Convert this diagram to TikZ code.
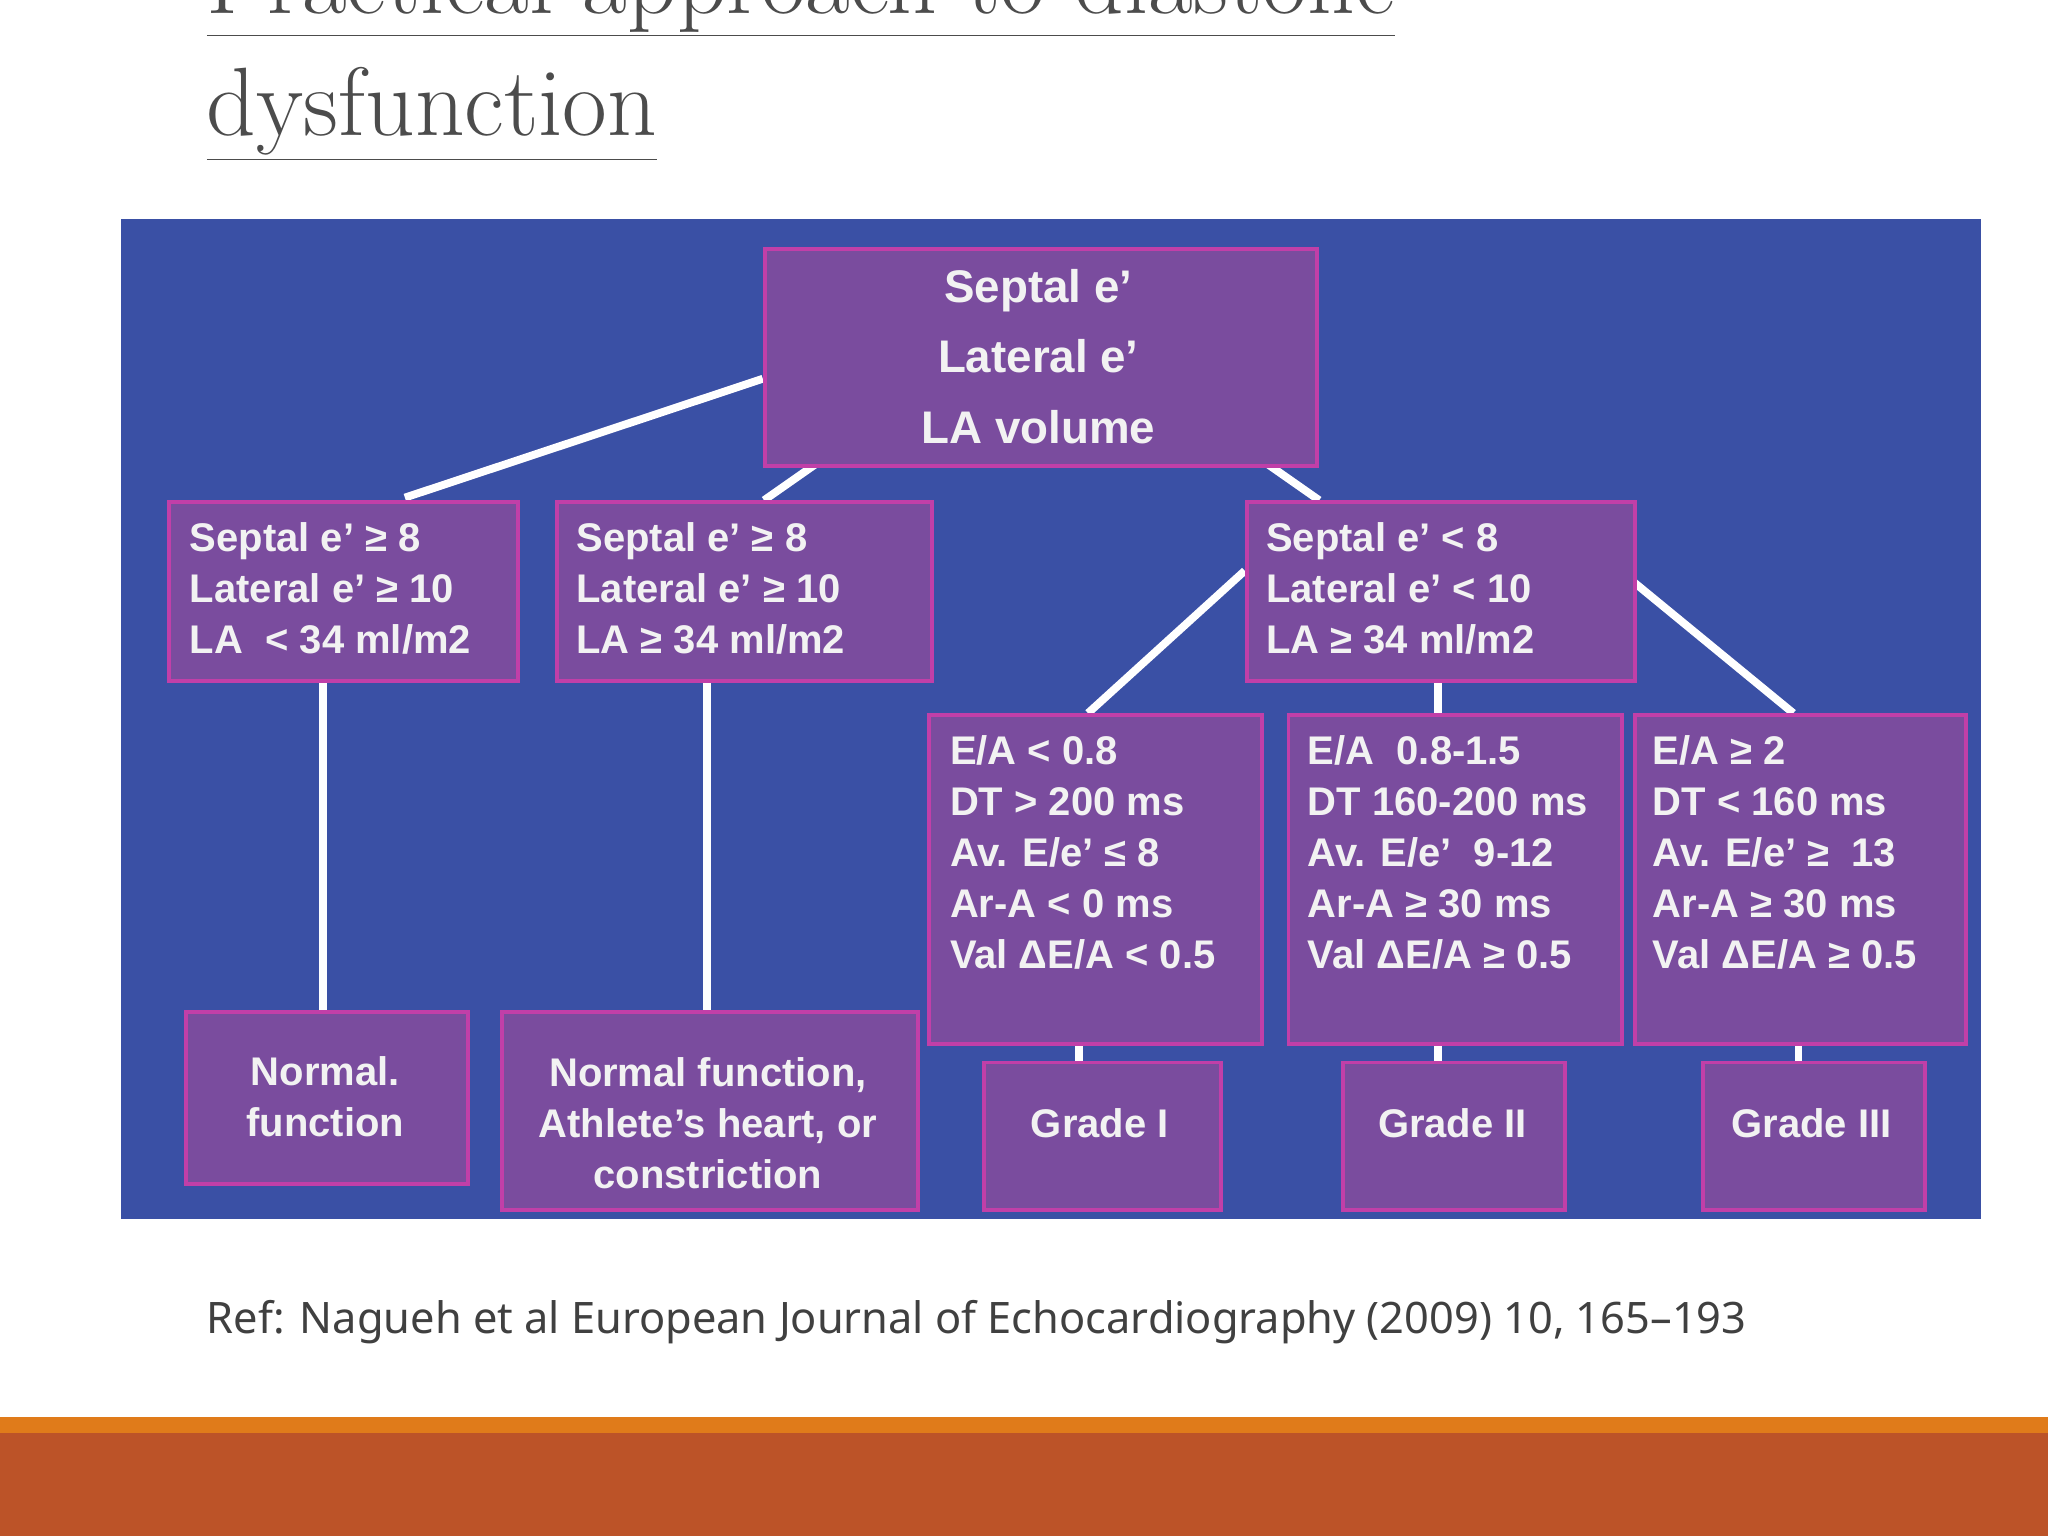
\documentclass[tikz,border=0pt]{standalone}
\usepackage{fontspec}
\newfontfamily\boxfont{Liberation Sans}
\newfontfamily\reffont{Noto Sans}
\begin{document}
\begin{tikzpicture}[x=0.5pt,y=-0.5pt,
  box/.style={draw=boxedge,fill=boxfill,line width=1.5pt,inner sep=0,anchor=north west},
  txt/.style={text=boxtext,font=\boxfont\bfseries\fontsize{15.3}{19.5}\selectfont,align=left,inner sep=0,anchor=north west},
  ctxt/.style={text=boxtext,font=\boxfont\bfseries\fontsize{15.3}{19.5}\selectfont,align=center,inner sep=0},
  wire/.style={draw=white,line width=3pt}]
\definecolor{bluebg}{HTML}{3A50A5}
\definecolor{boxfill}{HTML}{7A4C9E}
\definecolor{boxedge}{HTML}{C13FA8}
\definecolor{boxtext}{HTML}{F2F2F2}
\definecolor{orangeA}{HTML}{E07B1A}
\definecolor{orangeB}{HTML}{BC5328}
\useasboundingbox (0,0) rectangle (1568,1176);
\clip (0,0) rectangle (1568,1176);
\fill[white] (0,0) rectangle (1568,1176);
% title
\node[anchor=base west,inner sep=0,text=black!70,font=\fontsize{37.2}{40}\selectfont] (t1) at (158,10) {\underline{Practical approach to diastolic}};
\node[anchor=base west,inner sep=0,text=black!70,font=\fontsize{37.2}{40}\selectfont] (t2) at (158,104) {\underline{dysfunction}};
% background
\fill[bluebg] (93,168) rectangle (1517,933);
% wires
\coordinate (w1) at (584,290); \coordinate (w2) at (310,381);
\coordinate (w3) at (625,355); \coordinate (w4) at (585,383);
\coordinate (w5) at (970,355); \coordinate (w6) at (1010,383);
\coordinate (w7) at (953,437); \coordinate (w8) at (833,546);
\coordinate (w9) at (1250,445); \coordinate (w10) at (1373,546);
\draw[wire] (w1)--(w2); \draw[wire] (w3)--(w4); \draw[wire] (w5)--(w6);
\draw[wire] (w7)--(w8); \draw[wire] (w9)--(w10);
\draw[wire] (247,520) coordinate (a1) -- (247,773) coordinate (a2);
\draw[wire] (541,520) coordinate (b1) -- (541,773) coordinate (b2);
\draw[wire] (1101,520) coordinate (c1) -- (1101,546) coordinate (c2);
\draw[wire] (826,798) coordinate (d1) -- (826,812) coordinate (d2);
\draw[wire] (1101,798) coordinate (e1) -- (1101,812) coordinate (e2);
\draw[wire] (1377,798) coordinate (f1) -- (1377,812) coordinate (f2);
% boxes
\node[box,minimum width=211.5pt,minimum height=83pt] (top) at (584,189) {};
\node[ctxt,anchor=center,font=\boxfont\bfseries\fontsize{17.5}{27}\selectfont] (toptxt) at (795,273) {Septal e’\\Lateral e’\\LA volume};
\node[box,minimum width=133.5pt,minimum height=68.5pt] (A) at (128,383) {};
\node[txt] (At) at (145,400) {Septal e’ ≥ 8\\Lateral e’ ≥ 10\\LA~~< 34 ml/m2};
\node[box,minimum width=143.5pt,minimum height=68.5pt] (B) at (425,383) {};
\node[txt] (Bt) at (441,400) {Septal e’ ≥ 8\\Lateral e’ ≥ 10\\LA ≥ 34 ml/m2};
\node[box,minimum width=148.5pt,minimum height=68.5pt] (C) at (953,383) {};
\node[txt] (Ct) at (969,400) {Septal e’ < 8\\Lateral e’ < 10\\LA ≥ 34 ml/m2};
\node[box,minimum width=127.5pt,minimum height=126pt] (D) at (710,546) {};
\node[txt] (Dt) at (727,563) {E/A < 0.8\\DT > 200 ms\\Av. E/e’ ≤ 8\\Ar-A < 0 ms\\Val ΔE/A < 0.5};
\node[box,minimum width=127.5pt,minimum height=126pt] (E) at (985,546) {};
\node[txt] (Et) at (1001,563) {E/A~ 0.8-1.5\\DT 160-200 ms\\Av. E/e’~ 9-12\\Ar-A ≥ 30 ms\\Val ΔE/A ≥ 0.5};
\node[box,minimum width=127pt,minimum height=126pt] (F) at (1250,546) {};
\node[txt] (Ft) at (1265,563) {E/A ≥ 2\\DT < 160 ms\\Av. E/e’ ≥~ 13\\Ar-A ≥ 30 ms\\Val ΔE/A ≥ 0.5};
\node[box,minimum width=108pt,minimum height=66pt] (G) at (141,773) {};
\node[ctxt] (Gt) at (249,840) {Normal.\\function};
\node[box,minimum width=159pt,minimum height=76pt] (H) at (383,773) {};
\node[ctxt] (Ht) at (542,860) {Normal function,\\Athlete’s heart, or\\constriction};
\node[box,minimum width=90.5pt,minimum height=56.5pt] (I) at (752,812) {};
\node[ctxt] (It) at (842,860) {Grade I};
\node[box,minimum width=85pt,minimum height=56.5pt] (J) at (1027,812) {};
\node[ctxt] (Jt) at (1112,860) {Grade II};
\node[box,minimum width=85pt,minimum height=56.5pt] (K) at (1302,812) {};
\node[ctxt] (Kt) at (1387,860) {Grade III};
% ref
\node[anchor=base west,inner sep=0,text=black!75,font=\reffont\fontsize{16.6}{18}\selectfont] (ref) at (158,1021) {Ref: Nagueh et al European Journal of Echocardiography (2009) 10, 165–193};
% bars
\fill[orangeA] (0,1085) rectangle (1568,1097);
\fill[orangeB] (0,1097) rectangle (1568,1176);
\end{tikzpicture}
\end{document}
